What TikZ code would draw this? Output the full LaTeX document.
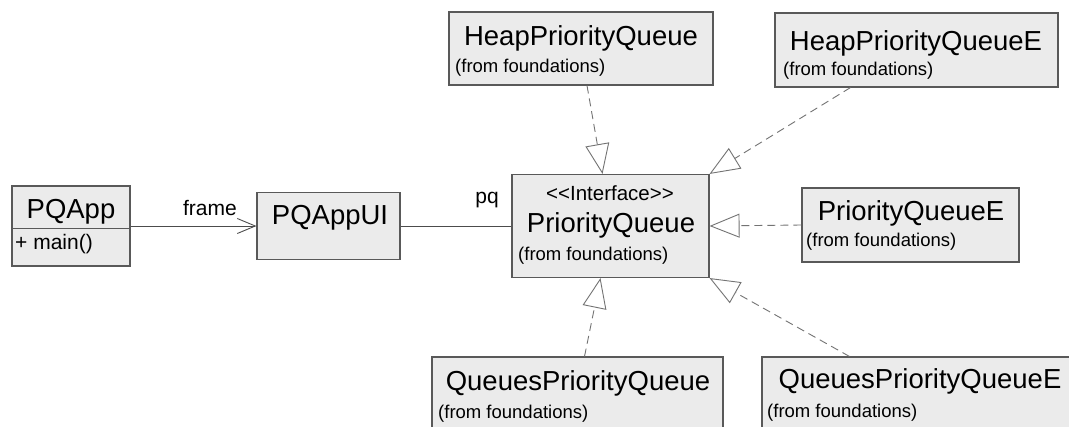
\documentclass[tikz,border=0pt]{standalone}
\usepackage{fontspec}
\setmainfont{Liberation Sans}
\usetikzlibrary{arrows.meta,positioning,calc}

\begin{document}
\begin{tikzpicture}[x=1pt,y=-1pt,
 cls/.style={draw=black!65,fill=black!8,line width=1.1pt,inner sep=0pt},
 title/.style={font=\fontsize{27.5}{30}\selectfont,inner sep=0pt,anchor=base},
 stereo/.style={font=\fontsize{20.5}{24}\selectfont,inner sep=0pt,anchor=base},
 member/.style={font=\fontsize{21}{24}\selectfont,inner sep=0pt,anchor=base west},
 pkg/.style={font=\fontsize{18.5}{20}\selectfont,inner sep=0pt,anchor=base west},
 role/.style={font=\fontsize{21}{24}\selectfont,inner sep=0pt,anchor=base},
 assoc/.style={draw=black!70,line width=0.9pt},
 realize/.style={draw=black!55,line width=0.9pt,dash pattern=on 8pt off 5pt,
   -{Triangle[open,length=30pt,width=24pt,fill=white]}}]
\clip (0,0) rectangle (1069,426);
\fill[white] (0,0) rectangle (1069,426);

% classes
\node[cls,minimum width=118pt,minimum height=80pt] (app) at (71,226) {};
\draw[black!65,line width=1.1pt] ($(app.north west)+(0,43)$) -- ($(app.north east)+(0,43)$);
\node[title] (app-t) at (71,218) {PQApp};
\node[member] (app-m) at (15,249) {+ main()};

\node[cls,minimum width=143pt,minimum height=67pt] (ui) at (328.5,226) {};
\node[title] (ui-t) at (330,224) {PQAppUI};

\node[cls,minimum width=197pt,minimum height=103pt] (pq) at (610.5,226) {};
\node[stereo] (pq-s) at (610,200) {<\kern0pt<Interface>\kern0pt>};
\node[title] (pq-t) at (611,232) {PriorityQueue};
\node[pkg] (pq-p) at (518,260) {(from foundations)};

\node[cls,minimum width=264pt,minimum height=73pt] (hpq) at (581,48.5) {};
\node[title] (hpq-t) at (581,45) {HeapPriorityQueue};
\node[pkg] (hpq-p) at (455,72) {(from foundations)};

\node[cls,minimum width=283pt,minimum height=74pt] (hpqe) at (916.5,50) {};
\node[title] (hpqe-t) at (916,50) {HeapPriorityQueueE};
\node[pkg] (hpqe-p) at (783,75) {(from foundations)};

\node[cls,minimum width=217pt,minimum height=74pt] (pqe) at (910.5,225) {};
\node[title] (pqe-t) at (911,220) {PriorityQueueE};
\node[pkg] (pqe-p) at (806,246) {(from foundations)};

\node[cls,minimum width=291pt,minimum height=83pt] (qpq) at (577.5,398.5) {};
\node[title] (qpq-t) at (578,390) {QueuesPriorityQueue};
\node[pkg] (qpq-p) at (438,418) {(from foundations)};

\node[cls,minimum width=318pt,minimum height=83pt] (qpqe) at (921,398.5) {};
\node[title] (qpqe-t) at (920,388) {QueuesPriorityQueueE};
\node[pkg] (qpqe-p) at (767,417) {(from foundations)};

% roles
\node[role] (frame) at (210,215) {frame};
\node[role] (pqrole) at (487,203) {pq};

% connectors
\draw[assoc,-{Straight Barb[length=18pt,width=15pt]}] (app.east) -- (ui.west);
\draw[assoc] (ui.east) -- (pq.west);
\draw[realize] ([xshift=6pt]hpq.south) -- ([xshift=-8pt]pq.north);
\draw[realize] ([xshift=-66pt]hpqe.south) -- (pq.north east);
\draw[realize] (pqe.west) -- (pq.east);
\draw[realize] ([xshift=7pt]qpq.north) -- ([xshift=-10pt]pq.south);
\draw[realize] ([xshift=88pt]qpqe.north west) -- (pq.south east);
\end{tikzpicture}
\end{document}
